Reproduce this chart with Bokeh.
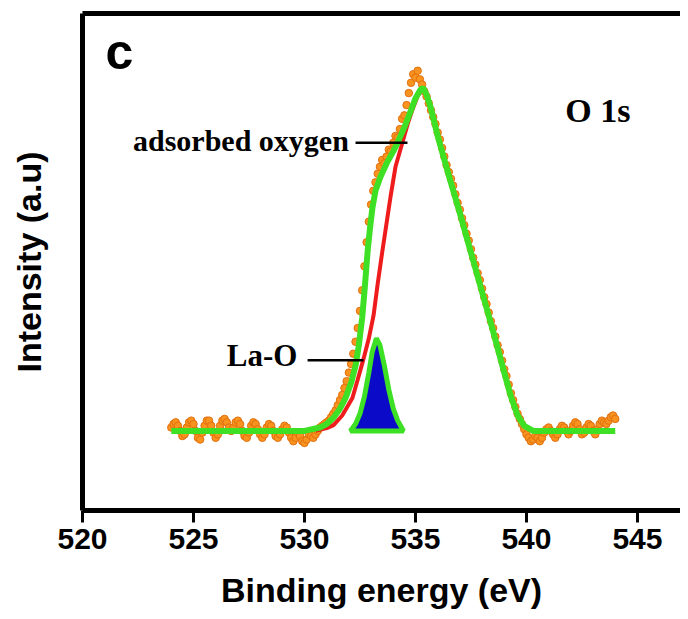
import numpy as np
from bokeh.plotting import figure
from bokeh.models import Range1d, FixedTicker, LinearAxis, Label
from bokeh.embed import file_html
from bokeh.resources import INLINE

# ---------------- data ----------------
# measured O 1s spectrum, binding energy grid 524.0 ... 544.0 eV, step 0.1 eV
energy_start = 524.0
energy_step = 0.1
intensity = [
    0.010, 0.020, 0.025, 0.015, 0.000, -0.015, -0.010, 0.010, 0.025, 0.030,   # 524
    0.020, 0.000, -0.020, -0.025, -0.005, 0.015, 0.030, 0.030, 0.015, -0.005,  # 525
    -0.020, -0.010, 0.015, 0.030, 0.035, 0.025, 0.010, 0.000, 0.010, 0.025,   # 526
    0.030, 0.020, 0.000, -0.015, -0.020, -0.005, 0.015, 0.025, 0.020, 0.005,  # 527
    -0.010, -0.020, -0.010, 0.010, 0.020, 0.015, 0.000, -0.015, -0.020, -0.010,  # 528
    0.005, 0.015, 0.010, -0.005, -0.020, -0.030, -0.020, -0.005, -0.015, -0.030,  # 529
    -0.035, -0.025, -0.010, -0.015, -0.020, -0.010, 0.000, 0.010, 0.015, 0.020,  # 530
    0.025, 0.030, 0.040, 0.050, 0.060, 0.075, 0.090, 0.105, 0.125, 0.145,     # 531
    0.170, 0.195, 0.225, 0.260, 0.300, 0.350, 0.410, 0.480, 0.550, 0.610,     # 532
    0.660, 0.700, 0.725, 0.750, 0.770, 0.790, 0.780, 0.800, 0.820, 0.815,     # 533
    0.840, 0.860, 0.855, 0.880, 0.910, 0.920, 0.950, 0.985, 1.015, 1.040,     # 534
    1.030, 1.050, 1.025, 1.010, 0.990, 0.975, 0.955, 0.935, 0.915, 0.895,     # 535
    0.870, 0.850, 0.825, 0.800, 0.775, 0.755, 0.735, 0.715, 0.690, 0.665,     # 536
    0.645, 0.620, 0.600, 0.575, 0.555, 0.530, 0.505, 0.485, 0.460, 0.440,     # 537
    0.415, 0.390, 0.370, 0.345, 0.320, 0.300, 0.275, 0.250, 0.230, 0.205,     # 538
    0.180, 0.160, 0.135, 0.110, 0.090, 0.070, 0.050, 0.035, 0.020, 0.005,     # 539
    -0.010, -0.020, -0.030, -0.025, -0.015, -0.020, -0.030, -0.020, -0.005, 0.005,  # 540
    0.010, 0.000, -0.010, -0.020, -0.010, 0.005, 0.015, 0.010, 0.000, -0.010,  # 541
    0.000, 0.015, 0.025, 0.020, 0.005, -0.010, -0.005, 0.010, 0.020, 0.015,   # 542
    0.000, -0.010, 0.005, 0.020, 0.030, 0.025, 0.020, 0.030, 0.040, 0.045,    # 543
    0.035,                                                                    # 544.0
]
energy = [round(energy_start + energy_step * i, 1) for i in range(len(intensity))]

# fitted envelope (green)
fit_x = [524.0, 530.0, 530.7, 531.0, 531.3, 531.6, 531.85, 532.1, 532.3, 532.45, 532.6,
         532.72, 532.84, 532.95, 533.06, 533.2, 533.42, 533.7, 534.0, 534.19, 534.5,
         534.77, 535.0, 535.23, 535.35, 535.5, 535.7, 536.0, 536.5, 537.0, 537.5,
         538.0, 538.5, 539.0, 539.3, 539.6, 539.9, 540.3, 544.0]
fit_y = [0.0, 0.0, 0.01, 0.02, 0.038, 0.065, 0.096, 0.14, 0.19, 0.25, 0.33,
         0.42, 0.52, 0.59, 0.65, 0.70, 0.74, 0.78, 0.815, 0.84, 0.885,
         0.93, 0.97, 0.995, 1.0, 0.98, 0.94, 0.86, 0.745, 0.635, 0.52,
         0.405, 0.29, 0.17, 0.10, 0.045, 0.015, 0.0, 0.0]

# adsorbed oxygen component (red)
ads_x = [530.5, 531.0, 531.31, 531.7, 532.16, 532.4, 532.66, 532.9, 533.11, 533.3,
         533.5, 533.87, 534.1, 534.41, 534.65, 534.86, 535.09, 535.3, 535.35, 535.5,
         535.7, 536.0, 536.5, 537.0, 537.5, 538.0, 538.5, 539.0, 539.3, 539.6, 539.9, 540.3]
ads_y = [0.0, 0.008, 0.017, 0.045, 0.096, 0.15, 0.21, 0.27, 0.336, 0.43,
         0.52, 0.68, 0.77, 0.84, 0.895, 0.936, 0.975, 0.998, 1.0, 0.98,
         0.94, 0.86, 0.745, 0.635, 0.52, 0.405, 0.29, 0.17, 0.10, 0.045, 0.015, 0.0]

# La-O component (blue)
lao_x = [532.07, 532.3, 532.5, 532.7, 532.9, 533.05, 533.24, 533.4, 533.6, 533.8, 534.0, 534.2, 534.46]
lao_y = [0.0, 0.02, 0.05, 0.10, 0.17, 0.23, 0.27, 0.25, 0.19, 0.12, 0.065, 0.03, 0.0]

x_ticks = [520, 525, 530, 535, 540, 545]

# ---------------- figure ----------------
p = figure(width=680, height=611,
           x_range=Range1d(520, 546.94), y_range=Range1d(-0.232, 1.217),
           output_backend="svg", toolbar_location=None,
           min_border_left=82, min_border_right=0, min_border_top=13, min_border_bottom=98)
p.outline_line_color = None
p.xgrid.visible = False
p.ygrid.visible = False
p.background_fill_color = "white"
p.border_fill_color = "white"

AX_FONT = "Liberation Sans"
SERIF = "Liberation Serif"

xa = p.xaxis[0]
xa.ticker = FixedTicker(ticks=x_ticks)
xa.axis_line_width = 5
xa.axis_line_color = "black"
xa.major_tick_line_width = 3
xa.major_tick_line_color = "black"
xa.major_tick_out = 12
xa.major_tick_in = 0
xa.minor_tick_line_color = None
xa.major_label_text_font = AX_FONT
xa.major_label_text_font_style = "bold"
xa.major_label_text_font_size = "30px"
xa.major_label_text_color = "black"
xa.major_label_standoff = 6
xa.axis_label = "Binding energy (eV)"
xa.axis_label_text_font = AX_FONT
xa.axis_label_text_font_style = "bold"
xa.axis_label_text_font_size = "34px"
xa.axis_label_text_color = "black"
xa.axis_label_standoff = 19

ya = p.yaxis[0]
ya.ticker = FixedTicker(ticks=[])
ya.axis_line_width = 5
ya.axis_line_color = "black"
ya.major_tick_line_color = None
ya.minor_tick_line_color = None
ya.major_label_text_font_size = "0px"
ya.axis_label = "Intensity (a.u)"
ya.axis_label_text_font = AX_FONT
ya.axis_label_text_font_style = "bold"
ya.axis_label_text_font_size = "34px"
ya.axis_label_text_color = "black"
ya.axis_label_standoff = 35

top = LinearAxis(ticker=FixedTicker(ticks=[]), axis_line_width=5, axis_line_color="black",
                 major_tick_line_color=None, minor_tick_line_color=None,
                 major_label_text_font_size="0px")
p.add_layout(top, "above")

# measured points
p.scatter(energy, intensity, size=7.5, fill_color="#f7931e", line_color="#e2700f", line_width=1)

# adsorbed oxygen component
p.line(ads_x, ads_y, line_color="#ee1c1c", line_width=4)

# La-O component
p.patch(lao_x, lao_y, fill_color="#0a0ac8", line_color="#3de024", line_width=5)

# envelope
p.line(fit_x, fit_y, line_color="#3de024", line_width=6)

# pointer lines
p.line([532.3, 534.64], [0.84, 0.84], line_color="black", line_width=2.5)
p.line([530.14, 532.66], [0.206, 0.206], line_color="black", line_width=2.5)

p.add_layout(Label(x=532.0, y=0.846, text="adsorbed oxygen", text_align="right",
                   text_baseline="alphabetic",
                   text_font=SERIF, text_font_style="bold", text_font_size="30px",
                   text_color="black"))
p.add_layout(Label(x=529.68, y=0.221, text="La-O", text_align="right",
                   text_baseline="alphabetic",
                   text_font=SERIF, text_font_style="bold", text_font_size="31px",
                   text_color="black"))
p.add_layout(Label(x=541.75, y=0.935, text="O 1s", text_align="left",
                   text_baseline="alphabetic",
                   text_font=SERIF, text_font_style="bold", text_font_size="34px",
                   text_color="black"))
p.add_layout(Label(x=521.04, y=1.105, text="c", text_align="left",
                   text_baseline="alphabetic",
                   text_font=AX_FONT, text_font_style="bold", text_font_size="50px",
                   text_color="black"))

open("out.html", "w").write(file_html(p, INLINE))
